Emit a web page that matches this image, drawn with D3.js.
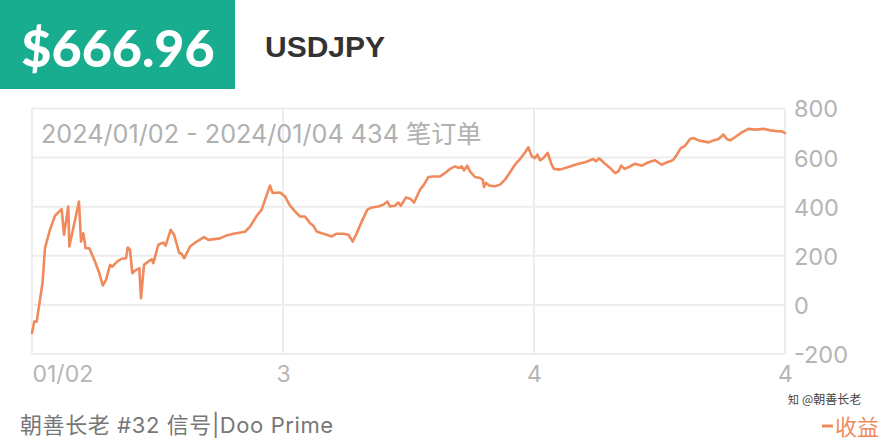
<!DOCTYPE html>
<html><head><meta charset="utf-8">
<script src="https://cdn.jsdelivr.net/npm/d3@7/dist/d3.min.js"></script>
<style>
html,body{margin:0;padding:0;background:#fff;}
svg{display:block;}
</style></head>
<body>
<svg id="chart" width="880" height="440"></svg>
<script>
// hours since 2024/01/02 00:00
const hours = [0,0.22,0.45,1.02,1.24,1.72,2.20,2.84,3.06,3.47,3.57,4.49,4.69,4.91,5.13,5.48,6.02,6.44,6.76,7.08,7.46,7.68,8.16,8.58,8.99,9.15,9.37,9.59,9.85,10.26,10.42,10.71,11.12,11.45,11.60,12.08,12.56,12.78,13.26,13.58,14.08,14.31,14.56,15.11,15.75,16.45,16.86,17.98,18.62,19.25,20.37,20.85,21.49,21.96,22.28,22.76,23.01,23.71,24.19,24.67,25.15,25.63,26.10,26.58,26.90,27.22,27.70,28.18,28.66,29.14,29.77,30.25,30.67,31.05,31.53,32.07,32.49,33.11,33.59,33.98,34.23,34.71,35.03,35.26,35.76,36.21,36.53,37.10,37.48,37.90,38.37,39.01,39.49,39.97,40.45,40.76,41.09,41.31,41.62,41.88,42.36,42.84,43.10,43.22,43.41,43.73,44.27,44.75,45.23,45.71,46.18,46.66,47.14,47.46,47.78,48.10,48.32,48.57,48.89,49.31,49.69,49.91,50.49,51.44,52.24,52.88,53.36,53.67,53.93,54.25,54.63,55.27,55.75,56.07,56.33,56.65,57.19,57.67,58.31,58.94,59.58,60.22,60.70,61.02,61.34,61.66,62.04,62.46,62.93,63.25,63.73,64.21,64.69,65.16,65.64,66.12,66.44,66.76,67.24,67.88,68.51,69.15,69.95,70.59,71.23,71.71,72];
const profit = [-114,-68,-68,95,231,306,363,390,286,401,238,421,258,292,231,231,177,129,79,102,163,156,177,188,190,234,224,129,140,150,27,163,177,186,170,245,254,241,306,286,211,208,190,238,258,276,265,271,283,290,298,319,363,388,428,486,456,458,442,404,381,360,360,333,322,299,292,286,279,290,290,286,258,292,340,388,397,401,408,421,401,404,417,404,438,431,417,469,490,521,523,523,537,554,564,558,564,548,567,544,521,517,510,480,497,486,483,490,510,540,571,594,621,642,605,598,612,589,598,619,571,554,551,564,575,581,589,594,585,597,581,558,537,544,567,554,564,575,567,581,589,571,581,585,592,612,639,649,676,680,670,666,662,670,676,694,676,670,684,703,717,714,717,711,708,707,700];
const xTickValues = [0,24,48,72];
const xTickLabels = ["01/02","3","4","4"];
const yTickValues = [-200,0,200,400,600,800];
const headline = "$666.96";
const symbol = "USDJPY";
const subtitle = "2024/01/02 - 2024/01/04 434 笔订单";
const footer = "朝善长老 #32 信号|Doo Prime";
const legendLabel = "收益";
const watermark = "@朝善长老";

const svg = d3.select("#chart");
const L = 32, R = 785, T = 108.5, B = 354;
const x = d3.scaleLinear().domain([0,72]).range([L,R]);
const y = d3.scaleLinear().domain([-200,800]).range([B,T]);
const gridColor = "#ededed";
const numFont = "Inter, 'Liberation Sans', 'Noto Sans CJK SC', sans-serif";

// header
svg.append("rect").attr("x",0).attr("y",0).attr("width",235).attr("height",89).attr("fill","#18ad8e");
svg.append("text").attr("x",118).attr("y",67).attr("text-anchor","middle")
  .attr("font-family","Lato, 'Open Sans', sans-serif").attr("font-weight",900)
  .attr("font-size",52).attr("fill","#fff").text(headline);
svg.append("text").attr("x",265).attr("y",57)
  .attr("font-family","'Liberation Sans', Arial, sans-serif").attr("font-weight",700)
  .attr("font-size",30).attr("fill","#333").text(symbol);

// grid
svg.append("g").selectAll("line").data(yTickValues).join("line")
  .attr("x1",L).attr("x2",R).attr("y1",d=>y(d)).attr("y2",d=>y(d))
  .attr("stroke",gridColor).attr("stroke-width",2);
svg.append("g").selectAll("line").data(xTickValues).join("line")
  .attr("x1",d=>x(d)).attr("x2",d=>x(d)).attr("y1",T).attr("y2",B)
  .attr("stroke",gridColor).attr("stroke-width",2);

// subtitle
svg.append("text").attr("x",41).attr("y",143)
  .attr("font-family",numFont).attr("font-size",25.2).attr("fill","#b0b0b0").text(subtitle);

// y axis labels
const yAxis = d3.axisRight(y).tickValues(yTickValues).tickSize(0).tickPadding(0).tickFormat(d=>String(d));
const gy = svg.append("g").attr("transform",`translate(${R+9},0)`).call(yAxis);
gy.select(".domain").remove();
gy.selectAll("text").attr("font-family",numFont).attr("font-size",23.5).attr("fill","#b5b5b5").attr("dy","0.36em");

// x axis labels
const xAxis = d3.axisBottom(x).tickValues(xTickValues).tickSize(0).tickPadding(0).tickFormat((d,i)=>xTickLabels[i]);
const gx = svg.append("g").attr("transform",`translate(0,${B+28})`).call(xAxis);
gx.select(".domain").remove();
gx.selectAll("text").attr("font-family",numFont).attr("font-size",23).attr("fill","#b5b5b5").attr("dy",0);
gx.selectAll(".tick").filter((d,i)=>i===0).select("text").attr("text-anchor","start").attr("x",0);

// line
const line = d3.line().x((d,i)=>x(hours[i])).y(d=>y(d));
svg.append("path").datum(profit).attr("d",line).attr("fill","none")
  .attr("stroke","#f08a5d").attr("stroke-width",2.6).attr("stroke-linejoin","round").attr("stroke-linecap","round");

// footer
svg.append("text").attr("x",20).attr("y",433)
  .attr("font-family","Inter, 'Noto Sans CJK SC', sans-serif").attr("font-size",22).attr("letter-spacing",0.6)
  .attr("fill","#777").text(footer);

// legend
svg.append("line").attr("x1",822).attr("x2",833).attr("y1",426).attr("y2",426).attr("stroke","#f08a5d").attr("stroke-width",3);
svg.append("text").attr("x",835).attr("y",435)
  .attr("font-family","'Noto Sans CJK SC', sans-serif").attr("font-size",22).attr("fill","#f08a5d").text(legendLabel);

// watermark
svg.append("text").attr("x",802).attr("y",404)
  .attr("font-family","'Noto Sans CJK SC', sans-serif").attr("font-size",12).attr("fill","#444")
  .attr("stroke","#fff").attr("stroke-width",2).attr("paint-order","stroke").text(watermark);
svg.append("text").attr("x",788).attr("y",404)
  .attr("font-family","'Noto Sans CJK SC', sans-serif").attr("font-size",11).attr("fill","#444").text("知");
</script>
</body></html>
